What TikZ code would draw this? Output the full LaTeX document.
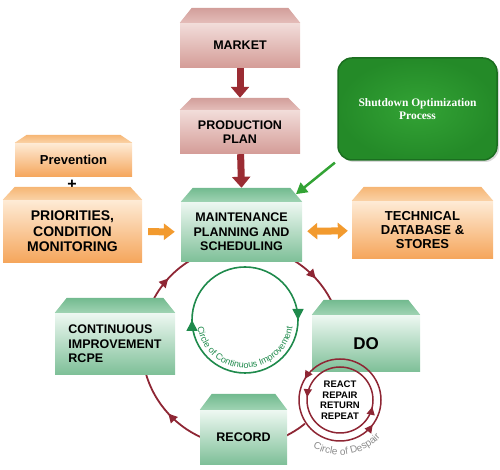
\documentclass[tikz,border=0pt]{standalone}
\usepackage{fontspec}
\setmainfont{Liberation Sans}
\newfontfamily\shutfont{Liberation Serif}
\usetikzlibrary{arrows.meta,decorations.markings,decorations.text,shadows}

\definecolor{pinkroofT}{HTML}{D29E9A}
\definecolor{pinkroofB}{HTML}{E4BDB9}
\definecolor{pinkbodyT}{HTML}{F2DDDA}
\definecolor{pinkbodyB}{HTML}{D49C97}
\definecolor{greenroofT}{HTML}{72BA8F}
\definecolor{greenroofB}{HTML}{9FD3B3}
\definecolor{greenbodyT}{HTML}{EEF8F2}
\definecolor{greenbodyB}{HTML}{7DBF97}
\definecolor{orangeroofT}{HTML}{F6B674}
\definecolor{orangeroofB}{HTML}{FAD2A6}
\definecolor{orangebodyT}{HTML}{FEEBD6}
\definecolor{orangebodyB}{HTML}{F5A55A}
\definecolor{arrowred}{HTML}{9B2C33}
\definecolor{ringred}{HTML}{8E2634}
\definecolor{ringgreen}{HTML}{1F8A4C}
\definecolor{arroworange}{HTML}{F29A2E}
\definecolor{shutgreen}{HTML}{33A335}
\definecolor{shutdark}{HTML}{248A28}
\definecolor{shutedge}{HTML}{1B6E20}
\definecolor{despairgrey}{HTML}{8C8C8C}

\tikzset{
  slab/.style={rectangle, inner sep=0pt, align=center,
    font=\bfseries\fontsize{12.5}{14.5}\selectfont},
  pinkslab/.style={slab, top color=pinkbodyT, bottom color=pinkbodyB},
  greenslab/.style={slab, top color=greenbodyT, bottom color=greenbodyB},
  orangeslab/.style={slab, top color=orangebodyT, bottom color=orangebodyB},
  shutbox/.style={rectangle, rounded corners=14pt, draw=shutedge, line width=1.5pt,
    inner color=shutgreen, outer color=shutdark, text=white, align=center,
    drop shadow={opacity=0.3, shadow xshift=2pt, shadow yshift=-2pt},
    font=\shutfont\bfseries\fontsize{11.5}{13.5}\selectfont},
  downarrow/.style={draw=arrowred, line width=7pt, -{Triangle[width=18pt,length=11pt]}},
  sidearrow/.style={draw=arroworange, line width=7pt},
  shutarrow/.style={draw=shutgreen, line width=2.5pt, -{Triangle[width=12pt,length=11pt]}},
  ringline/.style={draw=ringred, line width=1.8pt},
  arrowmid/.style={postaction={decorate}, decoration={markings,
    mark=at position 0.5 with {\arrow{Triangle[width=9pt,length=9pt]}}}},
  twomarks/.style n args={3}{postaction={decorate}, decoration={markings,
    mark=at position #1 with {\arrow{Triangle[width=#3,length=#3]}},
    mark=at position #2 with {\arrow{Triangle[width=#3,length=#3]}}}}
}

\begin{document}
\begin{tikzpicture}[x=1pt, y=1pt]
\useasboundingbox (0,0) rectangle (500,470);

% big maintenance loop (behind the boxes)
\coordinate (ring) at (242,124);
\foreach \a/\b in {60/25, 155/120, 250/195}
  \draw[ringline, arrowmid] ([shift={(\a:100)}]ring) arc[start angle=\a, end angle=\b, radius=100];
\draw[ringline] ([shift={(290:100)}]ring) arc[start angle=290, end angle=309, radius=100];

% boxes
\node[pinkslab, minimum width=120pt, minimum height=45pt] (market) at (240,424.5) {MARKET};
\node[pinkslab, minimum width=120pt, minimum height=44pt] (plan) at (240,338) {PRODUCTION\\PLAN};
\node[greenslab, minimum width=121pt, minimum height=60pt] (maint) at (241.5,238) {MAINTENANCE\\PLANNING AND\\SCHEDULING};
\node[orangeslab, minimum width=117pt, minimum height=34pt, font=\bfseries\fontsize{13}{15}\selectfont] (prev) at (73.5,310) {Prevention};
\node[orangeslab, minimum width=139pt, minimum height=63pt, font=\bfseries\fontsize{14}{15.5}\selectfont] (prio) at (72.5,238.5) {PRIORITIES,\\CONDITION\\MONITORING};
\node[orangeslab, minimum width=141pt, minimum height=58pt, font=\bfseries\fontsize{13}{14}\selectfont] (tech) at (422.5,240) {TECHNICAL\\DATABASE \&\\STORES};
\node[greenslab, minimum width=120pt, minimum height=62pt, align=left] (cont) at (115,126) {CONTINUOUS\\IMPROVEMENT\\RCPE};
\node[greenslab, minimum width=108pt, minimum height=57pt, font=\bfseries\fontsize{17}{19}\selectfont] (do) at (366,126.5) {DO};
\node[greenslab, minimum width=87pt, minimum height=55pt] (record) at (243.5,32.5) {RECORD};
\node[font=\bfseries\fontsize{16}{16}\selectfont] (plus) at (72,285) {+};

% roofs on top of the boxes
\foreach \n/\col/\h in {market/pink/15, plan/pink/12, maint/green/14, prev/orange/8,
    prio/orange/13, tech/orange/14, cont/green/15, do/green/15, record/green/16}{
  \shade[top color=\col roofT, bottom color=\col roofB] (\n.north west) -- ([shift={(12pt,\h pt)}]\n.north west)
    -- ([shift={(-12pt,\h pt)}]\n.north east) -- (\n.north east) -- cycle;
  \coordinate (\n-top) at ([yshift=\h pt]\n.north);
}
\coordinate (maint-eave) at ([shift={(-7pt,7pt)}]maint.north east);

\node[shutbox, minimum width=159pt, minimum height=102pt] (shut) at (417.5,361) {Shutdown Optimization\\Process};

% arrows
\draw[downarrow] (market) -- (plan-top);
\draw[downarrow] (plan) -- (maint-top);
\draw[sidearrow, -{Triangle[width=16pt,length=11pt]}, shorten <=6pt, shorten >=6pt] (prio) -- (maint);
\draw[sidearrow, {Triangle[width=16pt,length=10pt]}-{Triangle[width=16pt,length=10pt]},
  shorten <=5pt, shorten >=4pt] (maint) -- (tech);
\draw[shutarrow, shorten <=3pt, shorten >=1pt] (shut.south west) -- (maint-eave);

% circle of continuous improvement
\coordinate (cci) at (245,150);
\draw[draw=ringgreen, line width=1.6pt, twomarks={0.25}{0.75}{11pt}] ([shift={(90:53)}]cci) arc[start angle=90, end angle=-270, radius=53];
\path[decorate, decoration={text along path, text align=center,
  text={|\fontsize{9}{10}\selectfont\color{ringgreen}|Circle of Continuous Improvement}}]
  ([shift={(185:48)}]cci) arc[start angle=185, end angle=355, radius=48];

% circle of despair
\coordinate (despair) at (340,70);
\draw[ringline, line width=1.5pt, twomarks={0.414}{0.897}{8pt}] ([shift={(0:41)}]despair) arc[start angle=0, end angle=360, radius=41];
\draw[ringline, line width=1.5pt, twomarks={0.486}{0.967}{8pt}] ([shift={(0:33)}]despair) arc[start angle=0, end angle=360, radius=33];
\node[font=\bfseries\fontsize{9.5}{10.5}\selectfont, align=center] (rrrr) at (despair) {REACT\\REPAIR\\RETURN\\REPEAT};
\path[decorate, decoration={text along path, text align=center,
  text={|\fontsize{10}{11}\selectfont\color{despairgrey}|Circle of Despair}}]
  ([shift={(222:55)}]despair) arc[start angle=222, end angle=336, radius=55];
\end{tikzpicture}
\end{document}
